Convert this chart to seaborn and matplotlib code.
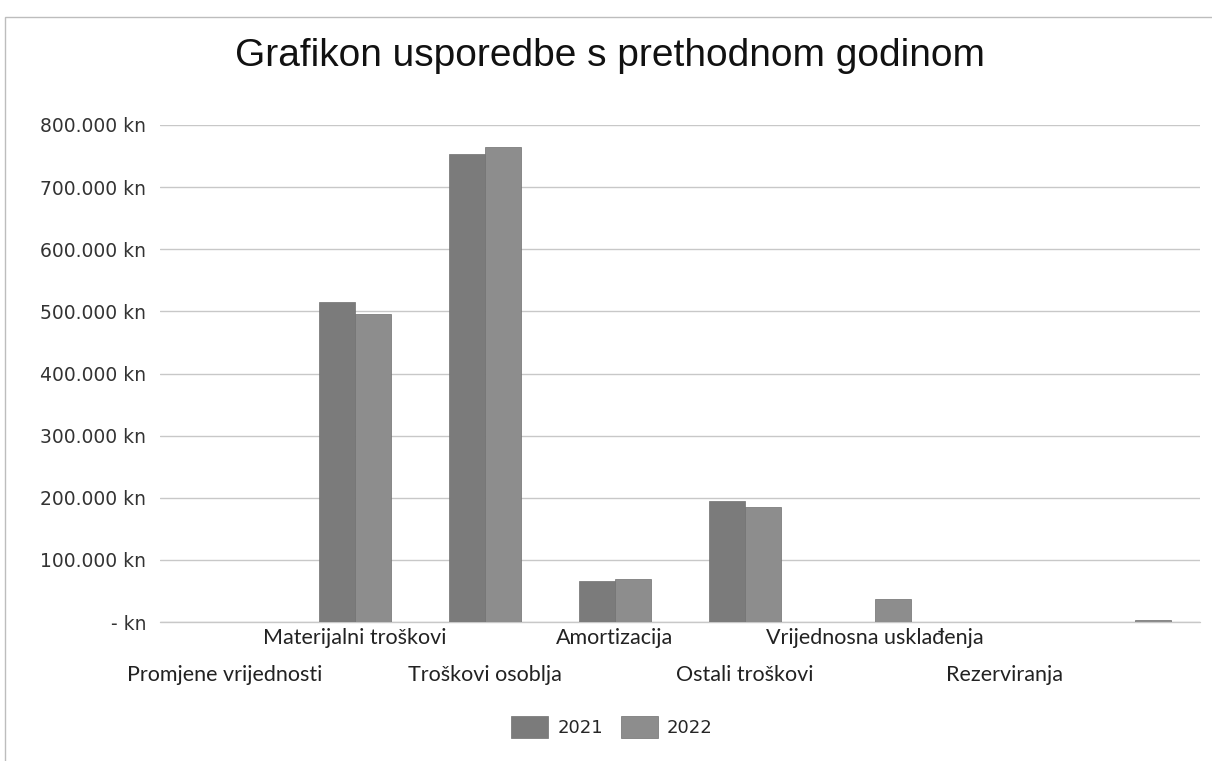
# loads the necessary modules
import pandas as pd
import matplotlib.pyplot as plt
import seaborn as sns
from matplotlib.patches import Rectangle

# chart data
categories = ["Promjene vrijednosti", "Materijalni troškovi", "Troškovi osoblja",
              "Amortizacija", "Ostali troškovi", "Vrijednosna usklađenja",
              "Rezerviranja", ""]
years = ["2021", "2022"]
values_2021 = [0, 515000, 754000, 66000, 194000, 0, 0, 0]
values_2022 = [0, 495000, 765000, 70000, 185000, 37000, 0, 3000]
y_ticks = [0, 100000, 200000, 300000, 400000, 500000, 600000, 700000, 800000]
colors = {"2021": "#7b7b7b", "2022": "#8d8d8d"}

df = pd.DataFrame({
    "kategorija": categories * 2,
    "godina": ["2021"] * len(categories) + ["2022"] * len(categories),
    "iznos": values_2021 + values_2022,
})

sns.set_style("white")

# intialize figure
f = plt.figure(figsize=(12.12, 7.61), dpi=100)
ax = f.add_axes([160 / 1212, 1 - 622 / 761, 1040 / 1212, (622 - 125) / 761])

sns.barplot(data=df, x="kategorija", y="iznos", hue="godina", order=categories,
            hue_order=years, palette=colors, width=0.55, saturation=1,
            edgecolor="#707070", linewidth=0.5, ax=ax)

# axes styling
ax.set_ylim(0, 800000)
ax.set_yticks(y_ticks)
ax.set_yticklabels(["- kn"] + [f"{v // 1000}.000 kn" for v in y_ticks[1:]],
                   fontsize=13.5, color="#333333", family="DejaVu Sans")
ax.yaxis.grid(True, color="#c8c8c8", linewidth=1)
ax.axhline(0, color="#c8c8c8", linewidth=1, clip_on=False, zorder=0.5)
ax.set_axisbelow(True)
for s in ["top", "right", "left", "bottom"]:
    ax.spines[s].set_visible(False)
ax.tick_params(axis="y", length=0, pad=10)
ax.tick_params(axis="x", length=0)
ax.set_xlabel("")
ax.set_ylabel("")

# staggered category labels
ax.set_xticks(range(len(categories)))
ax.set_xticklabels(categories, fontsize=15.5, color="#222222", family="Lato")
for i, tick in enumerate(ax.xaxis.get_major_ticks()):
    tick.set_pad(4 if i % 2 == 1 else 31)

# title
f.text(0.503, 1 - 56 / 761, "Grafikon usporedbe s prethodnom godinom",
       ha="center", va="center", fontsize=28, family="Liberation Sans", color="#111111")

# legend
ax.legend(loc="center", bbox_to_anchor=(612 / 1212, 1 - 727 / 761),
          bbox_transform=f.transFigure, ncol=2, frameon=False,
          prop={"family": "DejaVu Sans", "size": 13}, handlelength=2.05,
          handleheight=1.5, handletextpad=0.5, columnspacing=1.0)

# light frame of the scanned chart
f.patches.append(Rectangle((5 / 1212, -0.02), 1.1, 1 - 17 / 761 + 0.02,
                           transform=f.transFigure, fill=False,
                           edgecolor="#bdbdbd", linewidth=1))

# saves the image
plt.savefig("out.png", dpi=100)
